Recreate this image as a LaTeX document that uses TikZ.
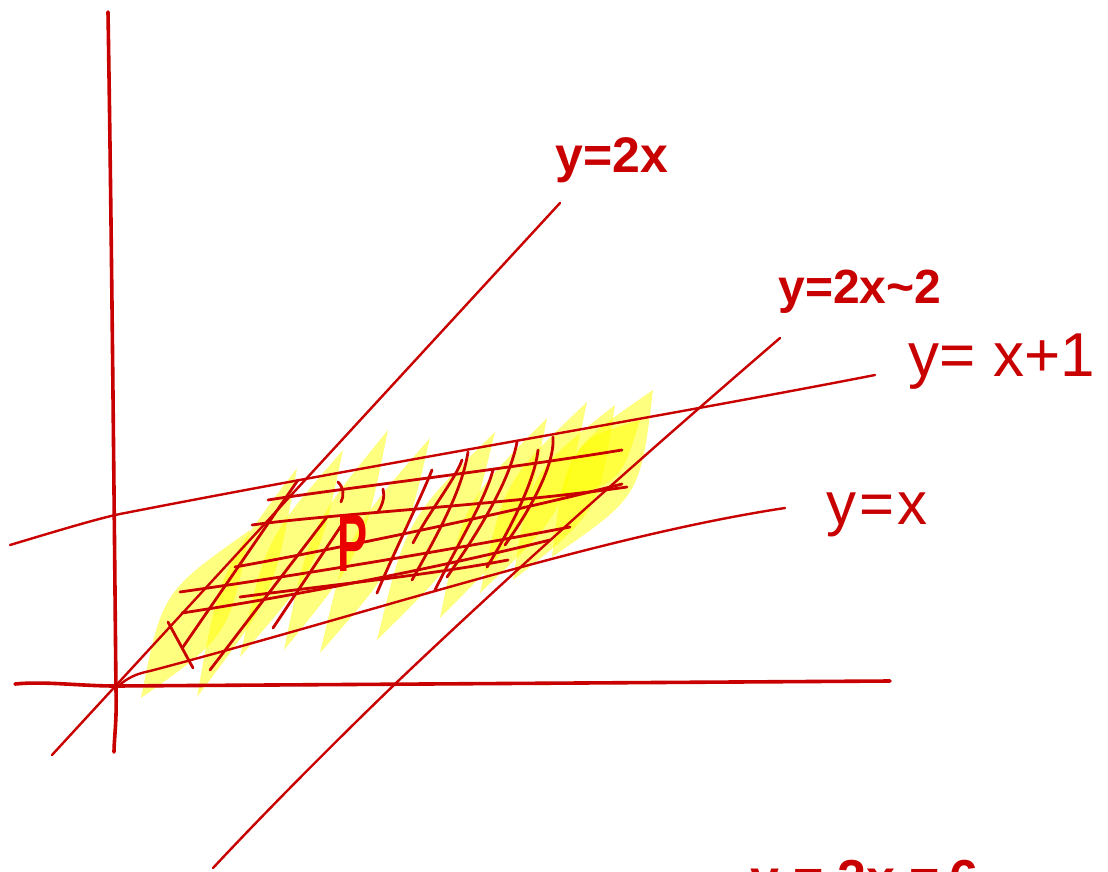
\documentclass[tikz,border=0pt]{standalone}
\usepackage{fontspec}
\setmainfont{Liberation Sans}
\usetikzlibrary{calc}
\definecolor{sk}{RGB}{200,0,0}
\definecolor{pk}{RGB}{235,0,0}
\definecolor{hl}{RGB}{255,255,0}
\tikzset{
  axisline/.style={draw=sk,line width=3.6pt,line cap=round,line join=round},
  graphline/.style={draw=sk,line width=2.4pt,line cap=round,line join=round},
  hatchline/.style={draw=sk,line width=2.8pt,line cap=round,line join=round},
  lbl/.style={text=sk,inner sep=0pt},
  leaf/.style={fill=hl,fill opacity=0.5},
}
\newcommand{\leafat}[3]{%
  \fill[leaf] (#1) .. controls ($(#1)!0.5!(#2)!#3!90:(#2)$) .. (#2)
     .. controls ($(#1)!0.5!(#2)!#3!-90:(#2)$) .. (#1);}
\begin{document}
\begin{tikzpicture}[x=1pt,y=-1pt]
\useasboundingbox (0,0) rectangle (1108,872);
% yellow highlight strokes
\leafat{141,698}{250,530}{40pt}
\leafat{197,697}{297,468}{30pt}
\leafat{240,657}{343,450}{30pt}
\leafat{284,650}{388,430}{30pt}
\leafat{320,653}{430,438}{30pt}
\leafat{377,640}{495,432}{34pt}
\leafat{440,618}{547,418}{34pt}
\leafat{480,593}{587,402}{34pt}
\leafat{513,580}{615,405}{40pt}
\leafat{552,557}{653,390}{44pt}
\leafat{560,500}{640,420}{30pt}
% axes
\draw[axisline] (108,12) .. controls (112,250) and (115,600) .. (116,690) .. controls (117,720) and (114,740) .. (114,752);
\draw[axisline] (15,684) .. controls (45,681) and (80,686) .. (116,686) -- (890,681);
% lines
\draw[graphline] (52,755) -- (560,203);
\draw[graphline] (213,868) .. controls (300,775) and (395,684) .. (395,684) .. controls (520,565) and (650,450) .. (780,338);
\draw[graphline] (10,545) .. controls (60,530) and (100,518) .. (120,514) .. controls (370,465) and (660,417) .. (875,375);
\draw[graphline] (118,686) .. controls (128,678) and (135,674) .. (150,671) .. controls (370,613) and (600,536) .. (785,508);
% horizontal hatch
\draw[hatchline] (268,500) .. controls (330,490) and (500,470) .. (622,450);
\draw[hatchline] (252,525) .. controls (330,514) and (500,505) .. (627,487);
\draw[hatchline] (235,567) .. controls (330,550) and (500,515) .. (622,484);
\draw[hatchline] (180,592) .. controls (300,575) and (450,550) .. (570,527);
\draw[hatchline] (182,613) .. controls (300,595) and (450,565) .. (550,540);
\draw[hatchline] (240,597) .. controls (330,585) and (430,575) .. (508,560);
% steep hatch
\draw[hatchline] (168,622) -- (193,668);
\draw[hatchline] (183,647) -- (298,480);
\draw[hatchline] (210,670) -- (327,517);
\draw[hatchline] (273,628) -- (345,520);
\draw[hatchline] (377,593) .. controls (395,550) and (420,500) .. (432,470);
\draw[hatchline] (412,580) .. controls (440,530) and (462,490) .. (468,452);
\draw[hatchline] (413,543) .. controls (430,510) and (455,480) .. (462,460);
\draw[hatchline] (435,590) .. controls (460,540) and (485,500) .. (493,470);
\draw[hatchline] (447,577) .. controls (480,530) and (510,480) .. (517,442);
\draw[hatchline] (487,567) .. controls (510,530) and (535,480) .. (538,450);
\draw[hatchline] (505,545) .. controls (530,510) and (555,465) .. (553,437);
\draw[hatchline] (338,482) .. controls (344,488) and (344,496) .. (341,502);
\draw[hatchline] (383,489) .. controls (385,496) and (383,504) .. (378,512);
% labels
\node[lbl,font=\bfseries\fontsize{50}{50}\selectfont] (l2x) at (612,160) {y=2x};
\node[lbl,font=\bfseries\fontsize{48}{48}\selectfont] (l2x2) at (860,292) {y=2x\textasciitilde2};
\node[lbl,font=\fontsize{62}{62}\selectfont] (lx1) at (1002,362) {y= x+1};
\node[lbl,font=\fontsize{60}{60}\selectfont] (lx) at (877,515) {y\hspace{3pt}=\hspace{3pt}x};
\node[text=pk,inner sep=0pt,font=\bfseries\fontsize{82}{82}\selectfont] (P) at (353,543) {\scalebox{0.55}[1]{P}};
\node[lbl,font=\bfseries\fontsize{52}{52}\selectfont,anchor=base west] (l6) at (750,896) {y\hspace{14pt}=\hspace{14pt}2x\hspace{14pt}=\hspace{10pt}6};
\end{tikzpicture}
\end{document}
